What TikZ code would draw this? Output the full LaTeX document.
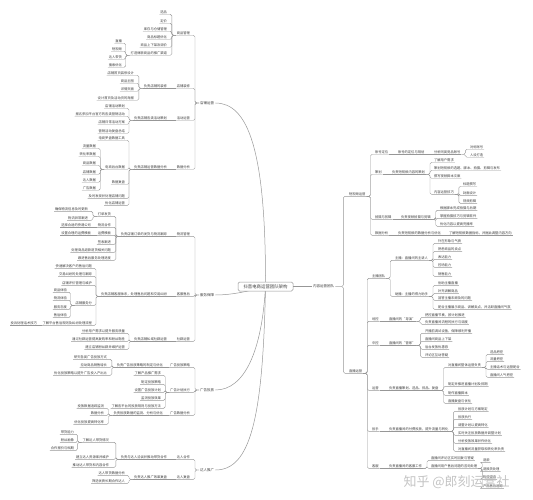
\documentclass[tikz,border=0pt]{standalone}
\usepackage{fontspec}
\usetikzlibrary{calc}
\newfontfamily\cjk{Noto Sans CJK SC}
\definecolor{linegray}{HTML}{979797}
\definecolor{txtgray}{HTML}{3C3C3C}
\definecolor{marklight}{HTML}{C4C4C4}

\tikzset{
  link/.style={draw=linegray, line width=0.4pt, rounded corners=1.5pt},
  curve/.style={draw=linegray, line width=0.5pt},
  topic/.style={inner xsep=0.8pt, inner ysep=0.6pt, text=txtgray,
    font=\cjk\fontsize{3.3}{3.6}\selectfont},
  lnode/.style={topic, anchor=south east, yshift=-2.3pt},
  rnode/.style={topic, anchor=south west, yshift=-2.3pt},
  branch/.style={topic, inner xsep=1pt, font=\cjk\fontsize{3.5}{4}\selectfont},
  hubbox/.style={draw=linegray, fill=white, rounded corners=1.5pt,
    line width=0.5pt, minimum width=55pt, minimum height=9pt, inner sep=1pt,
    text=txtgray, font=\cjk\fontsize{4.4}{5}\selectfont},
}
% bracket links: parent anchor, list of children
\newcommand{\lnk}[2]{\foreach \c in {#2}{\draw[link] (#1) -- ++(-4,0) |- (\c.south east) -- (\c.south west);}}
\newcommand{\rnk}[2]{\foreach \c in {#2}{\draw[link] (#1) -- ++(4,0) |- (\c.south west) -- (\c.south east);}}
% straight links on one row
\newcommand{\lch}[2]{\draw[link] (#1.south west) -- (#2.south east) -- (#2.south west);}
\newcommand{\rch}[2]{\draw[link] (#1.south east) -- (#2.south west) -- (#2.south east);}

\begin{document}
\begin{tikzpicture}[x=1pt, y=-1pt]
\useasboundingbox (0,0) rectangle (533,500);

% ---- left: shop
\node[branch, anchor=west] (shop) at (199,103) {店铺运营};
\node[lnode] (goods) at (191,33) {商品管理};
\node[lnode] (gd1) at (168,12) {选品};
\node[lnode] (gd2) at (168,21) {定价};
\node[lnode] (gd3) at (168,29) {库存与仓储管理};
\node[lnode] (gd4) at (168,37) {商品标题优化};
\node[lnode] (gd5) at (168,45) {商品上下架及调价};
\node[lnode] (gd6) at (168,53) {打造爆款商品的推广渠道};
\node[lnode] (gd61) at (123,41) {直播};
\node[lnode] (gd62) at (123,49) {短视频};
\node[lnode] (gd63) at (123,57) {达人带货};
\node[lnode] (gd64) at (123,65) {搜索优化};
\node[lnode] (deco) at (191,86) {店铺装修};
\node[lnode] (deco1) at (168,86) {负责店铺的装修};
\node[lnode] (deco11) at (135,73) {店铺首页装修设计};
\node[lnode] (deco12) at (135,81) {商品主图};
\node[lnode] (deco13) at (135,89) {详情页面};
\node[lnode] (deco14) at (135,98) {设计首页及活动页的海报};
\node[lnode] (act) at (191,118) {活动运营};
\node[lnode] (act1) at (168,118) {负责店铺各类活动策划};
\node[lnode] (act11) at (126,106) {店铺活动策划};
\node[lnode] (act12) at (126,114) {报名参加平台官方的各类营销活动};
\node[lnode] (act13) at (126,122) {店铺日常活动方案};
\node[lnode] (act14) at (126,131) {营销活动复盘总结};
\node[lnode] (data) at (191,167) {数据分析};
\node[lnode] (data1) at (168,167) {负责店铺运营数据分析};
\node[lnode] (data11) at (126,138) {电商罗盘数据工具};
\node[lnode] (data12) at (126,167) {电商后台数据};
\node[lnode] (data121) at (97,146) {流量数据};
\node[lnode] (data122) at (97,154) {转化率数据};
\node[lnode] (data123) at (97,163) {商品数据};
\node[lnode] (data124) at (97,172) {店铺数据};
\node[lnode] (data125) at (97,180) {达人数据};
\node[lnode] (data126) at (97,188) {广告数据};
\node[lnode] (data13) at (126,182) {数据复盘};
\node[lnode] (data14) at (126,196) {及时发现并处理店铺问题};
\node[lnode] (data15) at (126,203) {优化店铺运营};

\lnk{shop.west}{goods,deco,act,data}
\lnk{goods.south west}{gd1,gd2,gd3,gd4,gd5,gd6}
\lnk{gd6.south west}{gd61,gd62,gd63,gd64}
\lch{deco}{deco1}
\lnk{deco1.south west}{deco11,deco12,deco13,deco14}
\lch{act}{act1}
\lnk{act1.south west}{act11,act12,act13,act14}
\lch{data}{data1}
\lnk{data1.south west}{data11,data12,data13,data14,data15}
\lnk{data12.south west}{data121,data122,data123,data124,data125,data126}

% ---- left: service
\node[branch, anchor=west] (serv) at (199,295) {服务保障};
\node[lnode] (ship) at (191,234) {物流管理};
\node[lnode] (ship1) at (168,234) {负责店铺订单的发货与物流跟踪};
\node[lnode] (ship11) at (112,214) {打单发货};
\node[lnode] (ship111) at (89,209) {确保物流信息及时更新};
\node[lnode] (ship112) at (89,218) {物流异常跟进};
\node[lnode] (ship12) at (112,225) {物流合作};
\node[lnode] (ship121) at (92,225) {选择合适的快递公司};
\node[lnode] (ship13) at (112,233) {运费模板};
\node[lnode] (ship131) at (92,233) {设置合理的运费模板};
\node[lnode] (ship14) at (112,242) {签收跟进};
\node[lnode] (ship15) at (112,250) {处理商品退款退货相关问题};
\node[lnode] (ship16) at (112,258) {跟进售后服务处理进度};
\node[lnode] (care) at (191,294) {客服售后};
\node[lnode] (care1) at (168,294) {负责店铺客服体系，处理售后问题和交易纠纷};
\node[lnode] (care11) at (93,266) {快速解决客户的售后问题};
\node[lnode] (care12) at (93,274) {交易纠纷的处理与跟踪};
\node[lnode] (care13) at (93,283) {店铺评价管理与维护};
\node[lnode] (care14) at (93,303) {店铺服务分};
\node[lnode] (care141) at (68,290) {商品体验};
\node[lnode] (care142) at (68,298) {物流体验};
\node[lnode] (care143) at (68,307) {服务态度};
\node[lnode] (care144) at (68,315) {售后体验};
\node[lnode] (care15) at (93,323) {了解平台售后规则及纠纷处理流程};
\node[lnode] (care151) at (38,323) {投诉处理话术技巧};
\node[lnode] (club) at (191,339) {社群运营};
\node[lnode] (club1) at (168,339) {负责店铺私域社群运营};
\node[lnode] (club11) at (126,331) {分析用户需求以提升服务质量};
\node[lnode] (club12) at (126,339) {通过社群运营提高复购率和粉丝黏性};
\node[lnode] (club13) at (126,347) {建立店铺粉丝群并维护运营};

\lnk{serv.west}{ship,care,club}
\lch{ship}{ship1}
\lnk{ship1.south west}{ship11,ship12,ship13,ship14,ship15,ship16}
\lnk{ship11.south west}{ship111,ship112}
\lch{ship12}{ship121}
\lch{ship13}{ship131}
\lch{care}{care1}
\lnk{care1.south west}{care11,care12,care13,care14,care15}
\lnk{care14.south west}{care141,care142,care143,care144}
\lch{care15}{care151}
\lch{club}{club1}
\lnk{club1.south west}{club11,club12,club13}

% ---- left: ads
\node[branch, anchor=west] (ads) at (199,390) {广告投放};
\node[lnode] (plan) at (191,365) {广告投放策略};
\node[lnode] (plan1) at (164,365) {负责广告投放策略的制定与优化};
\node[lnode] (plan11) at (108,357) {研究各类广告投放方式};
\node[lnode] (plan12) at (108,365) {拉动商品销售增长};
\node[lnode] (plan13) at (108,373) {优化投放策略以提升广告投入产出比};
\node[lnode] (run) at (191,390) {广告计划执行};
\node[lnode] (run1) at (162,373) {了解产品推广需求};
\node[lnode] (run2) at (162,382) {制定投放策略};
\node[lnode] (run3) at (162,390) {设置广告投放计划};
\node[lnode] (run4) at (162,398) {监测投放效果};
\node[lnode] (run5) at (162,406) {了解各平台的投放规则与投放方法};
\node[lnode] (adat) at (191,413) {广告数据分析};
\node[lnode] (adat1) at (164,413) {负责投放数据的监测、分析与优化};
\node[lnode] (adat11) at (105,406) {投放数据追踪监测};
\node[lnode] (adat12) at (105,413) {数据分析};
\node[lnode] (adat13) at (105,422) {优化投放提高转化率};

\lnk{ads.west}{plan,run,adat}
\lch{plan}{plan1}
\lnk{plan1.south west}{plan11,plan12,plan13}
\lnk{run.south west}{run1,run2,run3,run4,run5}
\lch{adat}{adat1}
\lnk{adat1.south west}{adat11,adat12,adat13}

% ---- left: creators
\node[branch, anchor=west] (kol) at (199,470) {达人推广};
\node[lnode] (coop) at (191,457) {达人合作};
\node[lnode] (coop1) at (168,457) {负责与达人洽谈并推动带货合作};
\node[lnode] (coop11) at (110,440) {了解达人带货情况};
\node[lnode] (coop111) at (75,432) {带货能力};
\node[lnode] (coop112) at (75,440) {粉丝画像};
\node[lnode] (coop113) at (75,448) {合作报价与档期};
\node[lnode] (coop12) at (110,457) {建立达人资源库并维护};
\node[lnode] (coop13) at (110,465) {推动达人带货和内容合作};
\node[lnode] (rev) at (191,477) {达人复盘};
\node[lnode] (rev1) at (168,477) {负责达人推广效果复盘};
\node[lnode] (rev11) at (126,473) {达人带货数据分析};
\node[lnode] (rev12) at (126,481) {筛选优质长期合作达人};

\lnk{kol.west}{coop,rev}
\lch{coop}{coop1}
\lnk{coop1.south west}{coop11,coop12,coop13}
\lnk{coop11.south west}{coop111,coop112,coop113}
\lch{rev}{rev1}
\lnk{rev1.south west}{rev11,rev12}

% ---- right: content team
\node[branch, anchor=west] (cont) at (312,286.5) {内容运营团队};
\node[rnode] (sv) at (348,194) {短视频运营};
\node[rnode] (sv1) at (374,152) {账号定位};
\node[rnode] (sv11) at (397,152) {账号的定位与规划};
\node[rnode] (sv111) at (433,152) {分析同类竞品账号};
\node[rnode] (sv1111) at (469,147) {对标账号};
\node[rnode] (sv1112) at (469,155) {人设打造};
\node[rnode] (sv2) at (374,172) {策划};
\node[rnode] (sv21) at (391,172) {负责短视频内容的策划};
\node[rnode] (sv211) at (433,160) {了解用户需求};
\node[rnode] (sv212) at (433,168) {策划短视频的选题、脚本、拍摄、剪辑与发布};
\node[rnode] (sv213) at (433,176) {撰写视频脚本文案};
\node[rnode] (sv214) at (433,192) {内容运营技巧};
\node[rnode] (sv2141) at (462,184) {标题撰写};
\node[rnode] (sv2142) at (462,193) {封面设计};
\node[rnode] (sv2143) at (462,201) {视频剪辑};
\node[rnode] (sv3) at (374,217) {拍摄与剪辑};
\node[rnode] (sv31) at (400,217) {负责视频拍摄与剪辑};
\node[rnode] (sv311) at (439,208) {根据脚本完成拍摄与后期};
\node[rnode] (sv312) at (439,216) {掌握拍摄技巧与剪辑软件};
\node[rnode] (sv313) at (439,224) {优化内容以提高完播率};
\node[rnode] (sv4) at (374,233) {数据分析};
\node[rnode] (sv41) at (397,233) {负责短视频的数据分析与优化};
\node[rnode] (sv411) at (448,233) {了解短视频数据指标，并据此调整内容方向};

\draw[link] (cont.east) -- ++(8,0) |- (sv.south west) -- (sv.south east);
\rnk{sv.south east}{sv1,sv2,sv3,sv4}
\rch{sv1}{sv11}
\rch{sv11}{sv111}
\rnk{sv111.south east}{sv1111,sv1112}
\rch{sv2}{sv21}
\rnk{sv21.south east}{sv211,sv212,sv213,sv214}
\rnk{sv214.south east}{sv2141,sv2142,sv2143}
\rch{sv3}{sv31}
\rnk{sv31.south east}{sv311,sv312,sv313}
\rch{sv4}{sv41}
\rch{sv41}{sv411}

\node[rnode] (live) at (348,371) {直播运营};
\node[rnode] (host) at (371,276) {主播团队};
\node[rnode] (host1) at (394,258) {主播：直播间的主讲人};
\node[rnode] (host11) at (437,241) {外在形象与气质};
\node[rnode] (host12) at (437,249) {熟悉商品的卖点};
\node[rnode] (host13) at (437,257) {表达能力};
\node[rnode] (host14) at (437,265) {控场能力};
\node[rnode] (host15) at (437,274) {销售能力};
\node[rnode] (host2) at (394,294) {助播：主播的得力助手};
\node[rnode] (host21) at (437,283) {协助主播直播};
\node[rnode] (host22) at (437,291) {补充讲解商品};
\node[rnode] (host23) at (437,298) {回答主播未顾及的问题};
\node[rnode] (host24) at (437,307) {配合主播展示商品、讲解卖点，并活跃直播间气氛};
\node[rnode] (ctrl) at (371,319) {场控};
\node[rnode] (ctrl1) at (388,319) {直播间的“导演”};
\node[rnode] (ctrl11) at (424,315) {把控直播节奏，按计划推进};
\node[rnode] (ctrl12) at (424,322) {负责直播间流程的执行与调度};
\node[rnode] (mid) at (371,343) {中控};
\node[rnode] (mid1) at (388,343) {直播间的“管家”};
\node[rnode] (mid11) at (424,331) {开播前调试设备，保障顺利开播};
\node[rnode] (mid12) at (424,339) {直播间商品上下架};
\node[rnode] (mid13) at (424,347) {后台发放优惠券};
\node[rnode] (mid14) at (424,355) {评论区互动答疑};
\node[rnode] (lop) at (371,388) {运营};
\node[rnode] (lop1) at (388,388) {负责直播策划、选品、排品、复盘};
\node[rnode] (lop11) at (447,365) {对直播间整体运营负责};
\node[rnode] (lop111) at (489,352) {选品把控};
\node[rnode] (lop112) at (489,359) {流量把控};
\node[rnode] (lop113) at (489,367) {主播话术与运营配合};
\node[rnode] (lop114) at (489,375) {直播间人气把控};
\node[rnode] (lop12) at (447,384) {制定并推进直播计划及排期};
\node[rnode] (lop13) at (447,393) {制作直播脚本};
\node[rnode] (lop14) at (447,401) {直播复盘与优化};
\node[rnode] (pitch) at (371,429) {投手};
\node[rnode] (pitch1) at (388,429) {负责直播间的付费投放，提升流量与转化};
\node[rnode] (pitch11) at (457,409) {投放计划与方案制定};
\node[rnode] (pitch12) at (457,417) {投放执行};
\node[rnode] (pitch13) at (457,425) {调整计划以提高转化};
\node[rnode] (pitch14) at (457,433) {实时关注投放数据并调整计划};
\node[rnode] (pitch15) at (457,441) {分析投放效果并作优化};
\node[rnode] (pitch16) at (457,449) {对直播间流量获取和转化率负责};
\node[rnode] (svc) at (371,466) {客服};
\node[rnode] (svc1) at (388,466) {负责直播间的客服工作};
\node[rnode] (svc11) at (430,458) {直播间评论区实时回复与答疑};
\node[rnode] (svc12) at (430,466) {直播间用户售后问题的咨询处理};
\node[rnode] (svc121) at (482,460) {退款};
\node[rnode] (svc122) at (482,469) {退换货处理};
\node[rnode] (svc123) at (482,477) {物流查询};
\node[rnode] (svc124) at (482,486) {产品售后追踪};

\draw[link] (cont.east) -- ++(8,0) |- (live.south west) -- (live.south east);
\rnk{live.south east}{host,ctrl,mid,lop,pitch,svc}
\rnk{host.south east}{host1,host2}
\rnk{host1.south east}{host11,host12,host13,host14,host15}
\rnk{host2.south east}{host21,host22,host23,host24}
\rch{ctrl}{ctrl1}
\rnk{ctrl1.south east}{ctrl11,ctrl12}
\rch{mid}{mid1}
\rnk{mid1.south east}{mid11,mid12,mid13,mid14}
\rch{lop}{lop1}
\rnk{lop1.south east}{lop11,lop12,lop13,lop14}
\rnk{lop11.south east}{lop111,lop112,lop113,lop114}
\rch{pitch}{pitch1}
\rnk{pitch1.south east}{pitch11,pitch12,pitch13,pitch14,pitch15,pitch16}
\rch{svc}{svc1}
\rnk{svc1.south east}{svc11,svc12}
\rnk{svc12.south east}{svc121,svc122,svc123,svc124}

% ---- centre
\coordinate (hub) at (265.5,286.5);
\draw[curve] (hub) .. controls (266,150) and (248,103) .. (shop.east);
\draw[curve] (hub) .. controls (250,291) and (232,295) .. (serv.east);
\draw[curve] (hub) .. controls (262,350) and (245,390) .. (ads.east);
\draw[curve] (hub) .. controls (263,420) and (250,470) .. (kol.east);
\node[hubbox] (ctr) at (hub) {抖音电商运营团队架构};
\draw[link] (ctr.east) -- (cont.west);

\node[text=marklight, font=\cjk\fontsize{13}{14}\selectfont, anchor=west] (mark) at (400,482) {知乎 @郎刻运营社};
\end{tikzpicture}
\end{document}
